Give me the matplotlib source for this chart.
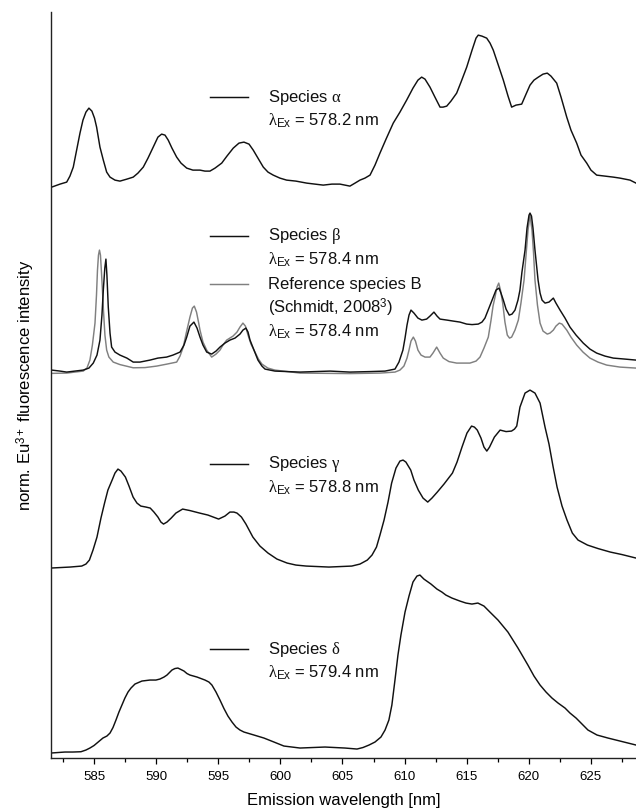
import matplotlib
matplotlib.use("Agg")
import matplotlib.pyplot as plt

plt.rcParams['font.family'] = ['Liberation Sans', 'DejaVu Sans']
plt.rcParams['mathtext.fontset'] = 'custom'
plt.rcParams['mathtext.rm'] = 'Liberation Sans'
plt.rcParams['mathtext.it'] = 'Liberation Serif'

# emission spectra as (wavelength nm, intensity above the trace's own baseline)
spec_alpha = [
    (581.57, -0.03), (582.24, 0.00), (582.78, 0.02), (583.04, 0.08), (583.31, 0.17),
    (583.58, 0.34), (583.85, 0.51), (584.09, 0.64), (584.33, 0.72), (584.57, 0.76),
    (584.81, 0.73), (585.02, 0.66), (585.19, 0.57), (585.46, 0.37), (585.73, 0.24),
    (586.00, 0.12), (586.27, 0.07), (586.67, 0.04), (587.07, 0.03), (587.63, 0.05),
    (588.14, 0.07), (588.52, 0.11), (588.95, 0.17), (589.33, 0.26), (589.75, 0.37),
    (590.13, 0.47), (590.43, 0.50), (590.70, 0.49), (590.96, 0.44), (591.26, 0.36),
    (591.64, 0.27), (591.99, 0.21), (592.45, 0.16), (592.95, 0.14), (593.52, 0.14),
    (593.92, 0.13), (594.32, 0.13), (594.73, 0.16), (595.27, 0.21), (595.69, 0.28),
    (596.20, 0.36), (596.66, 0.41), (597.06, 0.42), (597.47, 0.40), (597.81, 0.34),
    (598.19, 0.26), (598.62, 0.17), (599.00, 0.12), (599.42, 0.09), (599.96, 0.06),
    (600.50, 0.04), (601.25, 0.03), (602.12, 0.01), (602.78, 0.00), (603.45, -0.01),
    (604.15, 0.00), (604.80, 0.00), (605.60, -0.02), (606.01, 0.01), (606.41, 0.04),
    (606.81, 0.06), (607.22, 0.09), (607.62, 0.19), (608.02, 0.31), (608.51, 0.45),
    (609.09, 0.61), (609.63, 0.72), (610.17, 0.84), (610.68, 0.96), (611.08, 1.04),
    (611.38, 1.07), (611.65, 1.05), (612.05, 0.97), (612.45, 0.87), (612.86, 0.77),
    (613.10, 0.77), (613.40, 0.78), (613.74, 0.83), (614.20, 0.91), (614.55, 1.02),
    (615.01, 1.17), (615.44, 1.34), (615.76, 1.46), (615.94, 1.49), (616.24, 1.48),
    (616.62, 1.46), (616.89, 1.41), (617.15, 1.34), (617.53, 1.20), (617.96, 1.04),
    (618.34, 0.88), (618.63, 0.77), (618.98, 0.79), (619.44, 0.80), (619.79, 0.90),
    (620.11, 0.99), (620.43, 1.04), (620.78, 1.07), (621.16, 1.10), (621.50, 1.11),
    (621.80, 1.08), (622.26, 1.01), (622.61, 0.87), (623.07, 0.67), (623.41, 0.54),
    (623.87, 0.41), (624.22, 0.29), (624.68, 0.21), (625.02, 0.14), (625.48, 0.09),
    (626.15, 0.08), (626.82, 0.07), (627.36, 0.06), (628.17, 0.04), (628.65, 0.01),
]

spec_beta = [
    (581.57, 0.02), (582.24, 0.01), (582.78, 0.00), (583.44, 0.01), (584.11, 0.02),
    (584.57, 0.04), (584.92, 0.09), (585.22, 0.17), (585.46, 0.32), (585.62, 0.57),
    (585.73, 0.82), (585.85, 1.04), (585.94, 1.13), (586.02, 0.97), (586.13, 0.65),
    (586.27, 0.39), (586.40, 0.25), (586.67, 0.20), (587.07, 0.17), (587.63, 0.14),
    (588.14, 0.10), (588.68, 0.10), (589.49, 0.12), (590.13, 0.14), (590.83, 0.15),
    (591.34, 0.17), (591.91, 0.20), (592.23, 0.27), (592.45, 0.35), (592.71, 0.46),
    (593.03, 0.50), (593.28, 0.44), (593.52, 0.35), (593.76, 0.27), (594.06, 0.20),
    (594.46, 0.18), (594.81, 0.21), (595.13, 0.25), (595.53, 0.29), (595.93, 0.32),
    (596.34, 0.34), (596.74, 0.38), (596.98, 0.42), (597.22, 0.44), (597.39, 0.40),
    (597.55, 0.32), (597.87, 0.22), (598.19, 0.12), (598.51, 0.06), (598.76, 0.03),
    (599.56, 0.01), (601.58, 0.00), (604.00, 0.01), (605.60, 0.00), (607.22, 0.005),
    (608.43, 0.01), (609.23, 0.03), (609.55, 0.10), (609.87, 0.22), (610.04, 0.34),
    (610.20, 0.47), (610.36, 0.57), (610.52, 0.62), (610.76, 0.59), (611.08, 0.54),
    (611.40, 0.52), (611.78, 0.53), (612.05, 0.56), (612.37, 0.60), (612.62, 0.56),
    (612.86, 0.53), (613.42, 0.52), (613.93, 0.51), (614.47, 0.50), (615.01, 0.48),
    (615.44, 0.475), (615.94, 0.48), (616.24, 0.50), (616.48, 0.54), (616.80, 0.64),
    (617.15, 0.75), (617.37, 0.82), (617.61, 0.84), (617.77, 0.79), (617.96, 0.72),
    (618.18, 0.63), (618.44, 0.57), (618.66, 0.58), (618.90, 0.62), (619.14, 0.72),
    (619.30, 0.82), (619.46, 1.00), (619.71, 1.22), (619.87, 1.44), (620.03, 1.57),
    (620.11, 1.59), (620.23, 1.56), (620.35, 1.44), (620.51, 1.22), (620.76, 0.92),
    (620.92, 0.79), (621.08, 0.72), (621.32, 0.69), (621.64, 0.70), (621.99, 0.74),
    (622.20, 0.69), (622.53, 0.62), (622.93, 0.54), (623.33, 0.45), (623.82, 0.37),
    (624.40, 0.29), (624.94, 0.23), (625.48, 0.19), (626.15, 0.16), (626.82, 0.14),
    (627.76, 0.13), (628.65, 0.12),
]

spec_ref_b = [
    (581.57, -0.013), (582.78, -0.01), (584.11, 0.01), (584.41, 0.04), (584.65, 0.12),
    (584.85, 0.27), (585.06, 0.49), (585.18, 0.77), (585.26, 1.02), (585.34, 1.17),
    (585.42, 1.22), (585.50, 1.17), (585.58, 1.00), (585.66, 0.82), (585.74, 0.62),
    (585.86, 0.37), (586.00, 0.22), (586.18, 0.15), (586.53, 0.10), (587.07, 0.075),
    (588.14, 0.043), (589.09, 0.045), (590.03, 0.06), (590.86, 0.08), (591.64, 0.10),
    (591.91, 0.16), (592.17, 0.25), (592.43, 0.40), (592.71, 0.55), (592.91, 0.64),
    (593.06, 0.66), (593.24, 0.60), (593.40, 0.50), (593.52, 0.42), (593.76, 0.30),
    (594.06, 0.22), (594.46, 0.15), (594.81, 0.18), (595.13, 0.22), (595.37, 0.27),
    (595.67, 0.32), (596.18, 0.36), (596.50, 0.40), (596.74, 0.45), (596.98, 0.49),
    (597.18, 0.46), (597.39, 0.37), (597.63, 0.28), (597.95, 0.20), (598.23, 0.13),
    (598.51, 0.08), (598.99, 0.04), (599.56, 0.02), (601.58, -0.01), (605.60, -0.015),
    (608.02, -0.01), (609.23, 0.00), (609.63, 0.02), (609.95, 0.06), (610.20, 0.14),
    (610.36, 0.22), (610.52, 0.31), (610.71, 0.35), (610.88, 0.31), (611.08, 0.22),
    (611.33, 0.17), (611.65, 0.15), (612.05, 0.15), (612.29, 0.19), (612.59, 0.25),
    (612.86, 0.19), (613.12, 0.14), (613.58, 0.105), (614.20, 0.09), (615.27, 0.09),
    (615.76, 0.11), (616.08, 0.15), (616.40, 0.24), (616.75, 0.35), (616.97, 0.52),
    (617.13, 0.66), (617.29, 0.75), (617.45, 0.85), (617.59, 0.89), (617.73, 0.82),
    (617.91, 0.69), (618.09, 0.50), (618.28, 0.37), (618.46, 0.34), (618.63, 0.35),
    (618.90, 0.42), (619.17, 0.52), (619.38, 0.69), (619.63, 0.92), (619.79, 1.17),
    (619.95, 1.42), (620.11, 1.57), (620.27, 1.42), (620.39, 1.20), (620.51, 0.92),
    (620.71, 0.67), (620.92, 0.49), (621.16, 0.41), (621.50, 0.38), (621.72, 0.39),
    (621.99, 0.42), (622.20, 0.46), (622.47, 0.49), (622.69, 0.48), (623.07, 0.42),
    (623.41, 0.35), (623.87, 0.27), (624.38, 0.20), (624.94, 0.14), (625.59, 0.10),
    (626.29, 0.07), (627.36, 0.05), (628.65, 0.04),
]

spec_gamma = [
    (581.48, -0.02), (583.04, -0.01), (583.99, 0.00), (584.33, 0.02), (584.61, 0.06),
    (584.90, 0.16), (585.22, 0.29), (585.54, 0.48), (585.83, 0.63), (586.10, 0.76),
    (586.44, 0.86), (586.67, 0.93), (586.91, 0.97), (587.15, 0.95), (587.51, 0.89),
    (587.80, 0.80), (588.13, 0.69), (588.44, 0.63), (588.75, 0.60), (589.17, 0.59),
    (589.51, 0.58), (589.81, 0.54), (590.13, 0.49), (590.37, 0.44), (590.58, 0.42),
    (590.86, 0.44), (591.20, 0.48), (591.58, 0.53), (592.12, 0.57), (592.71, 0.555),
    (593.49, 0.53), (594.16, 0.51), (595.02, 0.47), (595.53, 0.50), (595.93, 0.54),
    (596.25, 0.54), (596.50, 0.53), (596.86, 0.49), (597.22, 0.42), (597.78, 0.29),
    (598.35, 0.20), (599.00, 0.13), (599.72, 0.07), (600.54, 0.03), (601.25, 0.01),
    (602.08, 0.00), (603.91, -0.01), (605.75, 0.00), (606.41, 0.02), (607.00, 0.06),
    (607.38, 0.11), (607.74, 0.19), (608.02, 0.31), (608.35, 0.46), (608.67, 0.64),
    (608.96, 0.83), (609.31, 0.98), (609.63, 1.05), (609.88, 1.06), (610.11, 1.04),
    (610.50, 0.96), (610.76, 0.86), (611.11, 0.76), (611.49, 0.68), (611.87, 0.64),
    (612.21, 0.68), (612.64, 0.74), (613.18, 0.82), (613.86, 0.93), (614.23, 1.04),
    (614.63, 1.19), (615.03, 1.33), (615.40, 1.40), (615.63, 1.39), (615.86, 1.36),
    (616.16, 1.28), (616.40, 1.19), (616.63, 1.15), (616.85, 1.19), (617.24, 1.29),
    (617.70, 1.36), (618.18, 1.345), (618.62, 1.35), (618.86, 1.37), (619.04, 1.40),
    (619.30, 1.59), (619.71, 1.73), (620.11, 1.76), (620.51, 1.73), (620.92, 1.63),
    (621.32, 1.39), (621.64, 1.22), (621.96, 1.00), (622.29, 0.79), (622.69, 0.60),
    (623.09, 0.46), (623.52, 0.33), (623.98, 0.26), (624.74, 0.21), (625.59, 0.175),
    (626.58, 0.14), (627.52, 0.115), (628.65, 0.08),
]

spec_delta = [
    (581.51, -0.01), (582.07, -0.005), (582.64, 0.00), (583.28, 0.00), (583.93, 0.003),
    (584.33, 0.02), (584.65, 0.04), (584.98, 0.065), (585.22, 0.09), (585.46, 0.115),
    (585.70, 0.14), (586.02, 0.16), (586.27, 0.19), (586.51, 0.245), (586.75, 0.32),
    (586.99, 0.40), (587.23, 0.47), (587.47, 0.54), (587.72, 0.60), (587.96, 0.64),
    (588.28, 0.68), (588.84, 0.71), (589.49, 0.72), (589.97, 0.72), (590.29, 0.73),
    (590.62, 0.75), (590.86, 0.77), (591.10, 0.80), (591.26, 0.82), (591.50, 0.835),
    (591.74, 0.84), (591.99, 0.825), (592.23, 0.81), (592.47, 0.785), (592.71, 0.77),
    (593.28, 0.75), (593.92, 0.72), (594.24, 0.70), (594.48, 0.67), (594.81, 0.60),
    (595.13, 0.52), (595.45, 0.435), (595.77, 0.36), (596.10, 0.30), (596.42, 0.25),
    (596.74, 0.22), (597.06, 0.20), (597.87, 0.17), (598.67, 0.14), (599.48, 0.10),
    (600.28, 0.06), (601.58, 0.04), (603.59, 0.05), (605.20, 0.04), (606.17, 0.03),
    (606.65, 0.045), (607.14, 0.07), (607.62, 0.10), (608.10, 0.15), (608.43, 0.22),
    (608.74, 0.32), (608.98, 0.47), (609.23, 0.72), (609.47, 0.97), (609.71, 1.17),
    (610.04, 1.40), (610.36, 1.56), (610.68, 1.70), (611.00, 1.76), (611.24, 1.77),
    (611.56, 1.73), (612.13, 1.68), (612.61, 1.63), (613.01, 1.60), (613.33, 1.57),
    (613.82, 1.54), (614.46, 1.51), (614.95, 1.49), (615.43, 1.48), (615.91, 1.49),
    (616.40, 1.46), (616.88, 1.40), (617.53, 1.32), (618.33, 1.20), (619.14, 1.04),
    (619.94, 0.87), (620.43, 0.76), (620.92, 0.67), (621.40, 0.60), (621.88, 0.54),
    (622.37, 0.49), (622.93, 0.44), (623.33, 0.39), (623.82, 0.34), (624.30, 0.28),
    (624.78, 0.22), (625.51, 0.17), (626.39, 0.14), (627.52, 0.105), (628.65, 0.07),
]

# vertical stacking offsets of the traces
off_alpha, off_beta, off_gamma, off_delta = 5.74, 3.86, 1.92, 0.06

label_alpha = ['Species $\\alpha$', '$\\lambda_{\\mathrm{Ex}}$ = 578.2 nm']
label_beta = ['Species $\\beta$', '$\\lambda_{\\mathrm{Ex}}$ = 578.4 nm']
label_ref_b = ['Reference species B', '(Schmidt, 2008$^{3}$)', '$\\lambda_{\\mathrm{Ex}}$ = 578.4 nm']
label_gamma = ['Species $\\gamma$', '$\\lambda_{\\mathrm{Ex}}$ = 578.8 nm']
label_delta = ['Species $\\delta$', '$\\lambda_{\\mathrm{Ex}}$ = 579.4 nm']

black = '#111111'
grey = '#808080'
lw = 1.05

fig = plt.figure(figsize=(6.36, 8.09), dpi=100)
ax = fig.add_axes([0.0797, 0.063, 0.9203, 0.922])


def trace(spec, offset, color):
    x, y = zip(*spec)
    ax.plot(x, [v + offset for v in y], color=color, lw=lw, solid_joinstyle='round')


trace(spec_alpha, off_alpha, black)
trace(spec_ref_b, off_beta, grey)
trace(spec_beta, off_beta, black)
trace(spec_gamma, off_gamma, black)
trace(spec_delta, off_delta, black)

ax.set_xlim(581.49, 628.65)
ax.set_ylim(0, 7.46)


def pix(px, py):
    # pixel position in the figure (from top-left) -> axes fraction
    return ((px - 50.7) / (636 - 50.7), (758 - py) / (758 - 12))


# key entries placed inside the plot, next to each trace
entries = [
    (97, black, label_alpha),
    (236, black, label_beta),
    (284, grey, label_ref_b),
    (464, black, label_gamma),
    (649, black, label_delta),
]
for y0, col, texts in entries:
    xa, ya = pix(210, y0)
    xb, _ = pix(248, y0)
    ax.plot([xa, xb], [ya, ya], color=col, lw=lw, transform=ax.transAxes)
    for i, s in enumerate(texts):
        xt, yt = pix(268, y0 + 24 * i)
        ax.text(xt, yt, s, transform=ax.transAxes, fontsize=12,
                va='center', ha='left', color='#111111')

ax.set_xlabel('Emission wavelength [nm]', fontsize=12, labelpad=7)
ax.set_ylabel('norm. Eu$^{3+}$ fluorescence intensity', fontsize=12, labelpad=10)

ax.spines['top'].set_visible(False)
ax.spines['right'].set_visible(False)
for s in ('left', 'bottom'):
    ax.spines[s].set_linewidth(1.0)
    ax.spines[s].set_color('#222222')
ax.set_yticks([])
ax.set_xticks([585, 590, 595, 600, 605, 610, 615, 620, 625])
ax.set_xticks([582.5, 587.5, 592.5, 597.5, 602.5, 607.5, 612.5, 617.5, 622.5, 627.5], minor=True)
ax.tick_params(axis='x', which='major', direction='out', length=4.5, width=0.9, labelsize=9.5, pad=5)
ax.tick_params(axis='x', which='minor', direction='out', length=3, width=0.9)

fig.savefig('out.png', dpi=100)
